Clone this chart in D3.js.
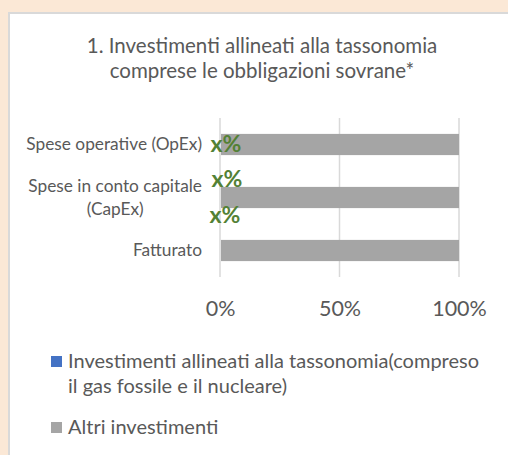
<!DOCTYPE html>
<html>
<head>
<meta charset="utf-8">
<script src="https://cdn.jsdelivr.net/npm/d3@7"></script>
<style>
  body { margin: 0; background: #fbe8d6; }
  svg { display: block; font-family: Lato, "Open Sans", sans-serif; }
</style>
</head>
<body>
<div id="chart"></div>
<script>
// Data
const categories = ['Spese operative (OpEx)', 'Spese in conto capitale (CapEx)', 'Fatturato']
const categoryLines = [['Spese operative (OpEx)'], ['Spese in conto capitale', '(CapEx)'], ['Fatturato']]
const alignedValues = [0, 0, 0]
const otherValues = [1, 1, 1]
const xTicks = [0, 0.5, 1]
const titleLines = ['1. Investimenti allineati alla tassonomia', 'comprese le obbligazioni sovrane*']
const seriesNames = ['Investimenti allineati alla tassonomia(compreso il gas fossile e il nucleare)', 'Altri investimenti']
const seriesColors = ['#4472c4', '#a5a5a5']
const placeholderLabels = ['x%', 'x%', 'x%']
const placeholderRows = [0, 1, 1]

const width = 508
const height = 455

const svg = d3.select('#chart')
  .append('svg')
  .attr('width', width)
  .attr('height', height)

// panel
svg.append('rect')
  .attr('x', 9).attr('y', 13)
  .attr('width', width).attr('height', height)
  .attr('fill', '#fff')
  .attr('stroke', '#d9d9d9')
  .attr('stroke-width', 2)

// title
svg.append('text')
  .attr('text-anchor', 'middle')
  .attr('fill', '#595959')
  .style('font-size', '20.5px')
  .selectAll('tspan')
  .data(titleLines)
  .join('tspan')
  .attr('x', 262)
  .attr('y', (d, i) => 53 + i * 25)
  .text(d => d)

// Scales
const xScale = d3.scaleLinear()
  .domain([0, 1])
  .range([220, 459])

const yScale = d3.scaleBand()
  .domain(categories)
  .range([118, 277])
  .paddingInner(0.6)
  .paddingOuter(0.3)

// grid
svg.append('g')
  .selectAll('line')
  .data(xTicks)
  .join('line')
  .attr('x1', d => xScale(d)).attr('x2', d => xScale(d))
  .attr('y1', 118).attr('y2', 277)
  .attr('stroke', '#d9d9d9')
  .attr('stroke-width', 1.5)

// stacked bars
const rows = categories.map((c, i) => ({ cat: c, aligned: alignedValues[i], other: otherValues[i] }))
const stacked = d3.stack().keys(['aligned', 'other'])(rows)

svg.append('g')
  .selectAll('g')
  .data(stacked)
  .join('g')
  .attr('fill', (d, i) => seriesColors[i])
  .selectAll('rect')
  .data(d => d)
  .join('rect')
  .attr('x', d => xScale(d[0]) + 1)
  .attr('y', d => yScale(d.data.cat))
  .attr('width', d => Math.max(0, xScale(d[1]) - xScale(d[0]) - 1))
  .attr('height', yScale.bandwidth())

// x axis labels
const xAxis = d3.axisBottom(xScale)
  .tickValues(xTicks)
  .tickFormat(d3.format('.0%'))
  .tickSize(0)
  .tickPadding(0)

const xAxisGroup = svg.append('g')
  .attr('transform', 'translate(0, 301)')
  .call(xAxis)
xAxisGroup.select('.domain').remove()
xAxisGroup.selectAll('text')
  .attr('fill', '#595959')
  .style('font-size', '21.5px')
  .style('font-family', 'Lato, "Open Sans", sans-serif')

// category labels
const catText = svg.append('g')
  .selectAll('text')
  .data(categories)
  .join('text')
  .attr('text-anchor', 'middle')
  .attr('fill', '#595959')
  .style('font-size', '17.3px')

catText.each(function(d, i) {
  const lines = categoryLines[i]
  const el = d3.select(this)
  const cy = yScale(d) + yScale.bandwidth() / 2
  const lineH = 23
  const start = cy + 5.5 - (lines.length - 1) * lineH / 2
  el.selectAll('tspan')
    .data(lines)
    .join('tspan')
    .attr('y', (l, j) => start + j * lineH)
    .text(l => l)
})
// right-align each block, lines centred inside it
catText.each(function() {
  const el = d3.select(this)
  const w = d3.max(el.selectAll('tspan').nodes(), n => n.getComputedTextLength())
  el.selectAll('tspan').attr('x', 202 - w / 2)
})

// placeholder labels
const labelOffsets = [7.5, -11, 25.5]
const labelDx = [6, 7, 5]
svg.append('g')
  .selectAll('text')
  .data(placeholderLabels)
  .join('text')
  .attr('x', (d, i) => xScale(alignedValues[placeholderRows[i]]) + labelDx[i])
  .attr('y', (d, i) => yScale(categories[placeholderRows[i]]) + yScale.bandwidth() / 2 + labelOffsets[i])
  .attr('text-anchor', 'middle')
  .attr('fill', '#538135')
  .style('font-size', '23px')
  .style('font-weight', 'bold')
  .text(d => d)

// legend
const legend = svg.append('g')
const legendItems = [
  { color: seriesColors[0], lines: ['Investimenti allineati alla tassonomia(compreso', 'il gas fossile e il nucleare)'], y: 356 },
  { color: seriesColors[1], lines: ['Altri investimenti'], y: 422 }
]
legendItems.forEach((item, i) => {
  legend.append('rect')
    .attr('x', 51).attr('y', item.y)
    .attr('width', 11).attr('height', 11)
    .attr('fill', item.color)
  legend.append('text')
    .attr('fill', '#595959')
    .style('font-size', '20px')
    .selectAll('tspan')
    .data(item.lines)
    .join('tspan')
    .attr('x', 68)
    .attr('y', (d, j) => item.y + 12 + j * 25)
    .text(d => d)
})
</script>
</body>
</html>
